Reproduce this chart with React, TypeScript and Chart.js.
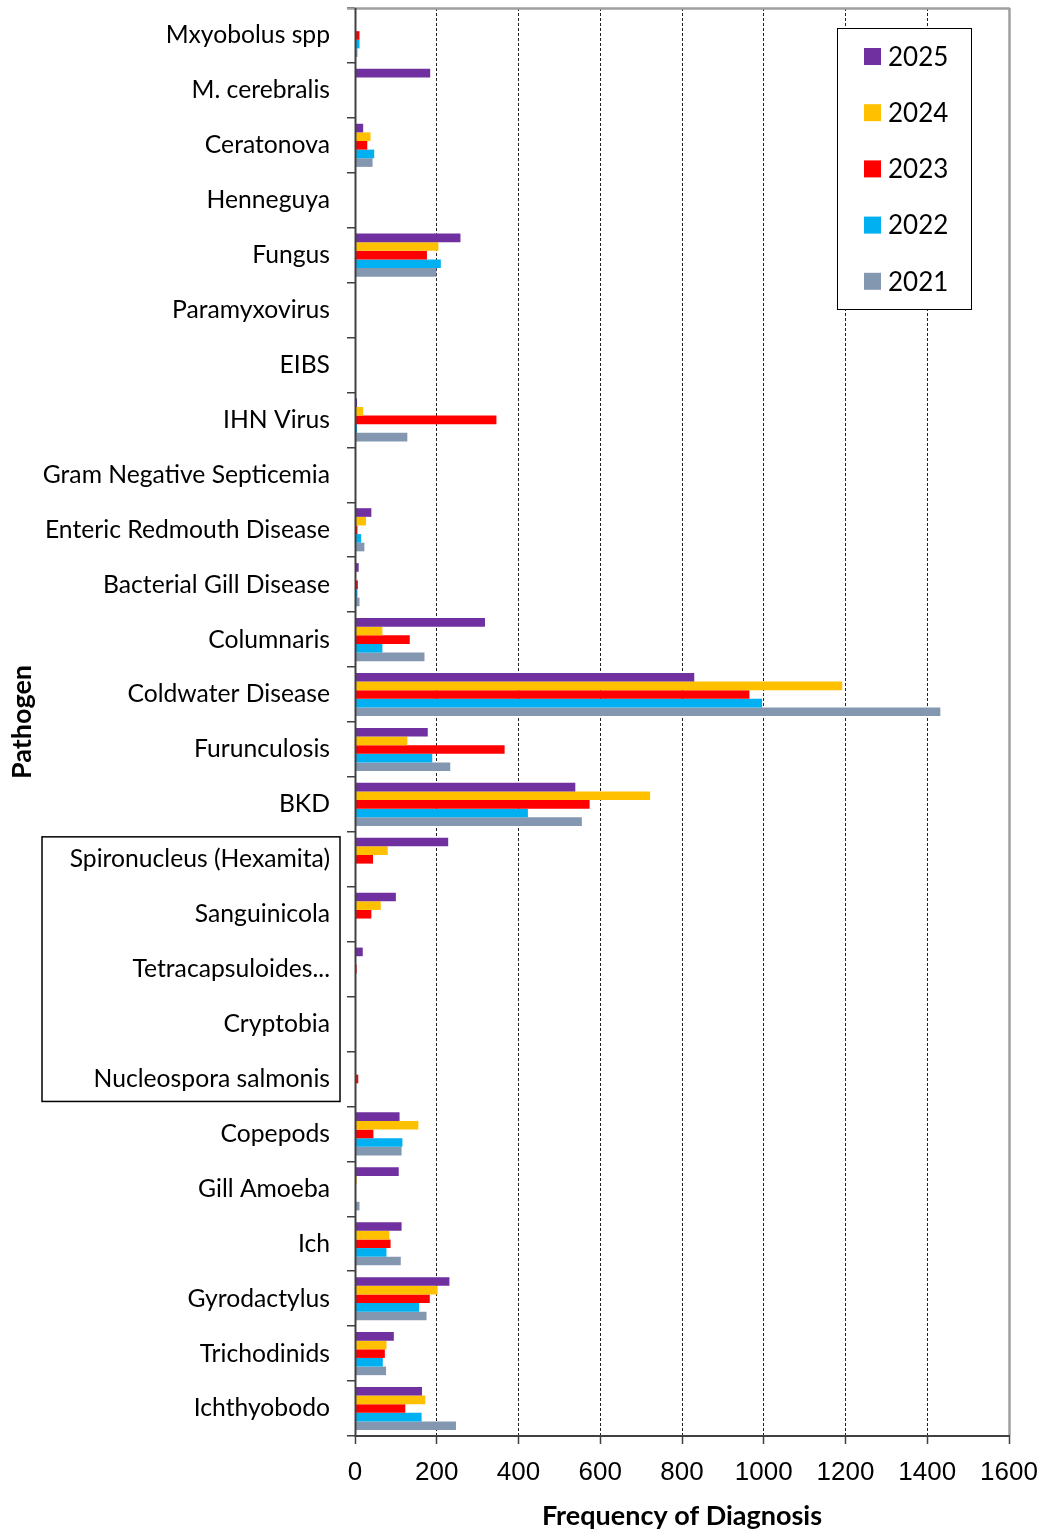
import React, { useEffect, useRef } from "react";
import { Chart, registerables } from "chart.js";

Chart.register(...registerables);

const categories = [
  "Mxyobolus spp",
  "M. cerebralis",
  "Ceratonova",
  "Henneguya",
  "Fungus",
  "Paramyxovirus",
  "EIBS",
  "IHN Virus",
  "Gram Negative Septicemia",
  "Enteric Redmouth Disease",
  "Bacterial Gill Disease",
  "Columnaris",
  "Coldwater Disease",
  "Furunculosis",
  "BKD",
  "Spironucleus (Hexamita)",
  "Sanguinicola",
  "Tetracapsuloides...",
  "Cryptobia",
  "Nucleospora salmonis",
  "Copepods",
  "Gill Amoeba",
  "Ich",
  "Gyrodactylus",
  "Trichodinids",
  "Ichthyobodo",
];

const years = ["2025", "2024", "2023", "2022", "2021"];
const colors = ["#7030A0", "#FFC000", "#FF0000", "#00B0F0", "#8497B0"];

const v2025 = [0, 184, 20, 0, 258, 1, 0, 5, 0, 40, 9, 318, 830, 178, 539, 228, 100, 19, 1, 1, 109, 107, 114, 231, 95, 164];
const v2024 = [0, 0, 38, 2, 204, 0, 0, 20, 0, 27, 2, 67, 1192, 128, 722, 80, 63, 0, 2, 2, 155, 4, 84, 202, 77, 172];
const v2023 = [11, 0, 30, 2, 176, 1, 0, 346, 0, 6, 7, 134, 965, 366, 574, 44, 40, 4, 0, 8, 45, 1, 87, 183, 73, 123];
const v2022 = [11, 2, 47, 0, 210, 0, 1, 5, 0, 15, 6, 67, 996, 189, 423, 0, 0, 0, 0, 0, 116, 0, 77, 157, 68, 163];
const v2021 = [6, 0, 43, 1, 199, 0, 0, 128, 0, 23, 11, 170, 1432, 233, 555, 0, 0, 0, 0, 0, 114, 11, 112, 175, 76, 247];

const xMin = 0;
const xMax = 1600;
const xStep = 200;

// categories inside the outlined label box
const boxedFirst = "Spironucleus (Hexamita)";
const boxedLast = "Nucleospora salmonis";

const framePlugin = {
  id: "frame",
  afterDatasetsDraw(chart: any) {
    const { ctx, chartArea } = chart;
    const { left, right, top, bottom } = chartArea;
    ctx.save();
    ctx.lineCap = "butt";
    // top and right border (gray)
    ctx.strokeStyle = "#A0A0A0";
    ctx.lineWidth = 2.5;
    ctx.beginPath();
    ctx.moveTo(left - 8, top + 0.5);
    ctx.lineTo(right + 1, top + 0.5);
    ctx.moveTo(right + 0.5, top);
    ctx.lineTo(right + 0.5, bottom);
    ctx.stroke();
    // axes (dark)
    ctx.strokeStyle = "#404040";
    ctx.lineWidth = 2;
    ctx.beginPath();
    ctx.moveTo(left + 0.5, top);
    ctx.lineTo(left + 0.5, bottom + 1);
    ctx.moveTo(left, bottom);
    ctx.lineTo(right + 1, bottom);
    ctx.stroke();
    ctx.restore();
  },
  afterDraw(chart: any) {
    const { ctx } = chart;
    const yScale = chart.scales.y;
    // outlined box around new categories
    const i0 = categories.indexOf(boxedFirst);
    const i1 = categories.indexOf(boxedLast);
    const half = (yScale.getPixelForValue(1) - yScale.getPixelForValue(0)) / 2;
    const bTop = yScale.getPixelForValue(i0) - half + 5;
    const bBot = yScale.getPixelForValue(i1) + half - 5;
    ctx.save();
    ctx.strokeStyle = "#000";
    ctx.lineWidth = 1.5;
    ctx.strokeRect(42, bTop, 298, bBot - bTop);
    ctx.restore();

    // legend
    const ds = chart.data.datasets;
    const lx = 837.5;
    const ly = 28.5;
    const lw = 134;
    const lh = 281;
    ctx.save();
    ctx.fillStyle = "#fff";
    ctx.fillRect(lx, ly, lw, lh);
    ctx.strokeStyle = "#000";
    ctx.lineWidth = 1;
    ctx.strokeRect(lx, ly, lw, lh);
    ctx.font = "26px Lato";
    ctx.textBaseline = "middle";
    ctx.textAlign = "left";
    ds.forEach((d: any, i: number) => {
      const cy = 56.5 + i * 56.2;
      ctx.fillStyle = d.backgroundColor;
      ctx.fillRect(864, cy - 8.5, 17, 17);
      ctx.fillStyle = "#000";
      ctx.fillText(d.label, 888, cy + 1);
    });
    ctx.restore();
  },
};

export default function App() {
  const ref = useRef<HTMLCanvasElement>(null);

  useEffect(() => {
    const canvas = ref.current;
    if (!canvas) return;
    const series = [v2025, v2024, v2023, v2022, v2021];
    const chart = new Chart(canvas, {
      type: "bar",
      data: {
        labels: categories,
        datasets: years.map((y, i) => ({
          label: y,
          data: series[i],
          backgroundColor: colors[i],
          borderWidth: 0,
          categoryPercentage: 0.785,
          barPercentage: 1,
        })),
      },
      options: {
        indexAxis: "y",
        responsive: false,
        animation: false,
        devicePixelRatio: 1,
        layout: { padding: { left: 0, right: 38, top: 8, bottom: 0 } },
        plugins: {
          legend: { display: false },
          tooltip: { enabled: false },
        },
        scales: {
          x: {
            type: "linear",
            position: "bottom",
            min: xMin,
            max: xMax,
            ticks: {
              stepSize: xStep,
              color: "#000",
              padding: 13,
              font: { family: "'Liberation Sans', Arial, sans-serif", size: 26 },
              callback: (v: any) => String(v),
            },
            grid: {
              color: (c: any) =>
                c.tick && (c.tick.value === xMin || c.tick.value === xMax) ? "rgba(0,0,0,0)" : "#202020",
              lineWidth: 1,
              drawTicks: true,
              tickLength: 8,
              tickColor: "#404040",
              tickWidth: 1.5,
            },
            border: { display: false, dash: [3, 2] },
            title: {
              display: true,
              text: "Frequency of Diagnosis",
              color: "#000",
              font: { family: "Lato", size: 27, weight: "bold" },
              padding: { top: 0, bottom: 0 },
            },
            afterFit: (s: any) => {
              s.height = 96;
              s.paddingLeft = 0;
              s.paddingRight = 0;
            },
          },
          y: {
            type: "category",
            ticks: {
              autoSkip: false,
              color: "#000",
              padding: 17,
              font: { family: "Lato", size: 24.7 },
            },
            grid: {
              drawOnChartArea: false,
              drawTicks: true,
              tickLength: 8,
              color: "#404040",
              tickColor: "#404040",
              lineWidth: 1.5,
            },
            border: { display: false },
            title: {
              display: true,
              text: "Pathogen",
              color: "#000",
              font: { family: "Lato", size: 27, weight: "bold" },
              padding: { top: 6, bottom: 0 },
            },
            afterFit: (s: any) => {
              s.width = 355;
              s.paddingTop = 0;
              s.paddingBottom = 0;
            },
          },
        },
      } as any,
      plugins: [framePlugin],
    });
    return () => chart.destroy();
  }, []);

  return (
    <div style={{ position: "absolute", left: 0, top: 0, width: 1047, height: 1532, background: "#fff" }}>
      <canvas ref={ref} width={1047} height={1532} style={{ display: "block", width: 1047, height: 1532 }} />
    </div>
  );
}
